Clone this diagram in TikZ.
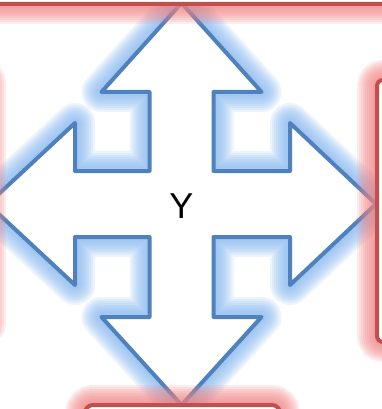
\documentclass[tikz,border=0pt]{standalone}
\usepackage{fontspec}
\setmainfont{Liberation Sans}
\usepackage{tikz}
\usetikzlibrary{positioning}

\definecolor{arrowblue}{RGB}{79,129,189}
\definecolor{glowblue}{RGB}{130,180,238}
\definecolor{boxred}{RGB}{192,80,77}
\definecolor{glowred}{RGB}{240,130,130}

\begin{document}
\begin{tikzpicture}[x=1pt,y=-1pt,
    arrowline/.style={draw=arrowblue,line width=4pt,line join=round,fill=white},
    boxline/.style={draw=boxred,line width=4pt,fill=white,rounded corners=6pt}]
  \useasboundingbox (0,0) rectangle (381,409);

  % 四向箭头的路径
  \def\quadarrow{(181.5,3) -- (261.5,92) -- (213.5,92) -- (213.5,171) -- (290,171)
    -- (290,123) -- (376,204) -- (290,285) -- (290,237) -- (213.5,237)
    -- (213.5,317) -- (261.5,317) -- (181.5,405) -- (101.5,317) -- (149.5,317)
    -- (149.5,237) -- (75,237) -- (75,285) -- (-12,204) -- (75,123) -- (75,171)
    -- (149.5,171) -- (149.5,92) -- (101.5,92) -- cycle}

  % 箭头外发光
  \foreach \w in {40,36,32,28,24,20,16,12,8} {
    \draw[glowblue,line width=\w pt,line join=round,opacity=0.14] \quadarrow;
  }

  % 绘制箭头
  \draw[arrowline] \quadarrow;
  \node (ylabel) at (181.5,206) {\fontsize{36}{40}\selectfont Y};

  % 四周方框的外发光
  \foreach \w in {40,36,32,28,24,20,16,12,8} {
    \draw[glowred,line width=\w pt,opacity=0.15,rounded corners=6pt]
      (-20,-40) rectangle (401,4);
    \draw[glowred,line width=\w pt,opacity=0.15,rounded corners=6pt]
      (377,80) rectangle (430,342);
    \draw[glowred,line width=\w pt,opacity=0.15,rounded corners=6pt]
      (-70,78) rectangle (-14,328);
    \draw[glowred,line width=\w pt,opacity=0.15,rounded corners=8pt]
      (85,405) rectangle (280,460);
  }

  % 绘制方框
  \draw[boxline] (-20,-40) rectangle (401,4);
  \draw[boxline] (377,80) rectangle (430,342);
  \draw[boxline] (-70,78) rectangle (-14,328);
  \draw[boxline,rounded corners=8pt] (85,405) rectangle (280,460);
\end{tikzpicture}
\end{document}
